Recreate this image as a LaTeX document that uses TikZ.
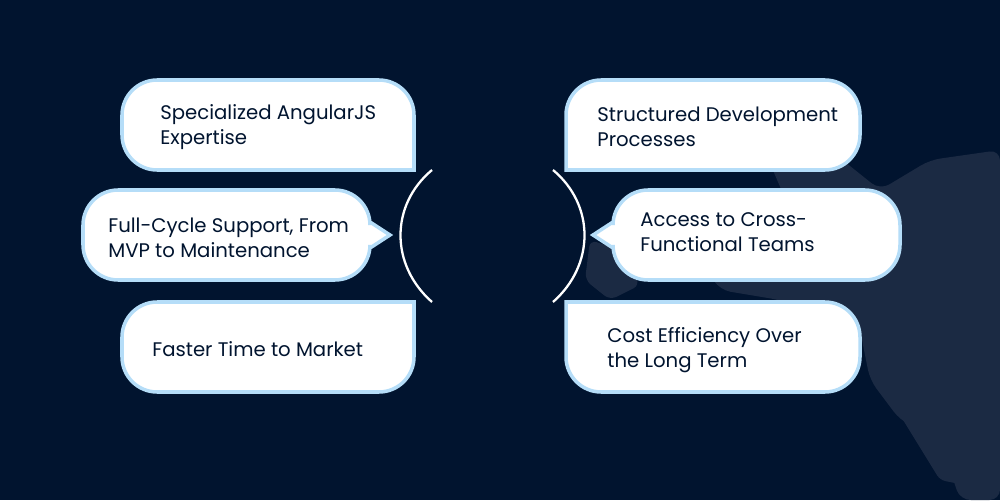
\documentclass[tikz,border=0pt]{standalone}
\usepackage{fontspec}
\setmainfont{Poppins}
\definecolor{navy}{HTML}{01142F}
\definecolor{rim}{HTML}{B5DDF8}
\definecolor{land}{HTML}{1B2A43}
\begin{document}
\begin{tikzpicture}[x=0.02cm,y=-0.02cm]
	\tikzstyle{bubble}=[draw=rim,line width=2pt,fill=white,rounded corners=20pt]
	\tikzstyle{txt}=[anchor=west,align=left,font=\fontsize{11.2}{14.5}\selectfont,text=navy,inner sep=0pt]
	\fill[navy] (0,0) rectangle (1000,500);
	% map
	\fill[land,rounded corners=6pt] (760,140) -- (830,150) -- (880,190) -- (930,160) -- (1000,150) -- (1000,500) -- (960,500) -- (940,440) -- (900,420) -- (870,380) -- (860,330) -- (780,300) -- (720,290) -- (700,260) -- (740,230) -- (790,210) -- cycle;
	\fill[land,rounded corners=4pt] (590,240) -- (620,250) -- (640,285) -- (610,300) -- (585,280) -- cycle;
	\fill[land,rounded corners=3pt] (900,415) -- (960,430) -- (990,490) -- (940,480) -- cycle;
	% left bubbles
	\draw[bubble] (122,80) -- (414,80) [sharp corners] -- (414,170) [rounded corners=20pt] -- (122,170) -- cycle;
	\draw[bubble] (83,190) -- (370,190) [sharp corners] -- (370,222) -- (390,235) -- (370,248) [rounded corners=20pt] -- (370,280) -- (83,280) -- cycle;
	\draw[bubble] (122,392) -- (122,302) [sharp corners] -- (414,302) [rounded corners=20pt] -- (414,392) -- cycle;
	% right bubbles
	\draw[bubble] (860,80) -- (566,80) [sharp corners] -- (566,170) [rounded corners=20pt] -- (860,170) -- cycle;
	\draw[bubble] (900,190) -- (613,190) [sharp corners] -- (613,222) -- (593,235) -- (613,248) [rounded corners=20pt] -- (613,280) -- (900,280) -- cycle;
	\draw[bubble] (860,392) -- (860,302) [sharp corners] -- (566,302) [rounded corners=20pt] -- (566,392) -- cycle;
	% brackets
	\draw[white,line width=1.3pt] (432,170) .. controls (390,205) and (390,265) .. (432,302);
	\draw[white,line width=1.3pt] (553,170) .. controls (595,205) and (595,265) .. (553,302);
	% labels
	\node[txt] (expertise) at (160,127) {Specialized AngularJS\\Expertise};
	\node[txt] (support) at (108,238) {Full-Cycle Support, From\\MVP to Maintenance};
	\node[txt] (market) at (152,349) {Faster Time to Market};
	\node[txt] (process) at (597,127) {Structured Development\\Processes};
	\node[txt] (teams) at (640,232) {Access to Cross-\\Functional Teams};
	\node[txt] (cost) at (607,350) {Cost Efficiency Over\\the Long Term};
\end{tikzpicture}
\end{document}
